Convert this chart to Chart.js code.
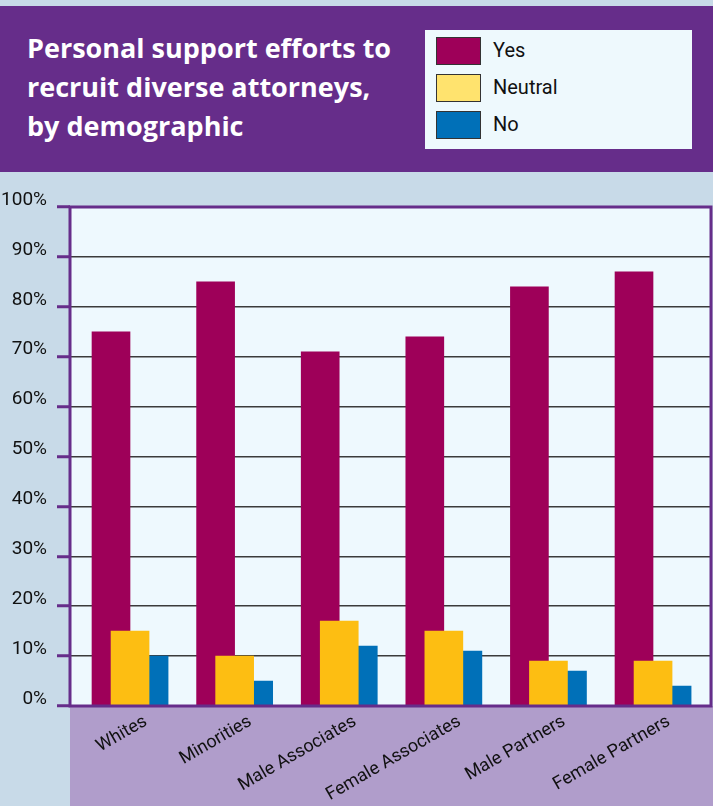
<!DOCTYPE html>
<html>
<head>
<meta charset="utf-8">
<script src="https://cdn.jsdelivr.net/npm/chart.js@4.4.0/dist/chart.umd.min.js"></script>
<style>
  html, body { margin: 0; padding: 0; }
  body { width: 713px; height: 806px; background: #c8dae8; position: relative; overflow: hidden; }
  #header { position: absolute; left: 0; top: 6px; width: 713px; height: 166px; background: #662d8a; }
  #title { position: absolute; left: 27px; top: 22px; color: #fff; font: bold 27px "Open Sans", sans-serif; line-height: 39px; }
  #legend { position: absolute; left: 425px; top: 24px; width: 267px; height: 119px; background: #eef9fd; }
  .item { position: absolute; left: 11px; height: 28px; }
  .sw { position: absolute; left: 0; top: 0; width: 43px; height: 26px; border: 1px solid #333; }
  .lab { position: absolute; left: 57px; top: 1px; line-height: 28px; font: 20px Roboto, sans-serif; color: #111; white-space: nowrap; }
  #wrap { position: absolute; left: 0; top: 172px; width: 713px; height: 634px; }
</style>
</head>
<body>
<div id="header">
  <div id="title">Personal support efforts to<br>recruit diverse attorneys,<br>by demographic</div>
  <div id="legend"></div>
</div>
<div id="wrap"><canvas id="myChart" width="713" height="634"></canvas></div>
<script>
var categories = ['Whites', 'Minorities', 'Male Associates', 'Female Associates', 'Male Partners', 'Female Partners'];
var yesValues = [75, 85, 71, 74, 84, 87];
var neutralValues = [15, 10, 17, 15, 9, 9];
var noValues = [10, 5, 12, 11, 7, 4];
var yTicks = [0, 10, 20, 30, 40, 50, 60, 70, 80, 90, 100];

var purple = '#662d8a';
var series = [
    { label: 'Yes', values: yesValues, color: '#9e0059', swatch: '#9e0059', shift: -0.182, order: 1 },
    { label: 'Neutral', values: neutralValues, color: '#fdbe12', swatch: '#ffe36e', shift: 0, order: 0 },
    { label: 'No', values: noValues, color: '#0070b8', swatch: '#0070b8', shift: 0.182, order: 2 }
];

// legend in the header box
var legend = document.getElementById('legend');
series.forEach(function (s, i) {
    var item = document.createElement('div');
    item.className = 'item';
    item.style.top = (7 + i * 37) + 'px';
    item.innerHTML = '<div class="sw" style="background:' + s.swatch + '"></div><div class="lab">' + s.label + '</div>';
    legend.appendChild(item);
});

var frame = {
    id: 'frame',
    beforeDraw: function (chart) {
        var ctx = chart.ctx, a = chart.chartArea;
        ctx.save();
        ctx.fillStyle = '#eef9fe';
        ctx.fillRect(a.left, a.top, a.right - a.left, a.bottom - a.top);
        ctx.fillStyle = '#b09dcb';
        ctx.fillRect(a.left, a.bottom, chart.width - a.left, chart.height - a.bottom);
        ctx.restore();
    },
    afterDatasetsDraw: function (chart) {
        var ctx = chart.ctx, a = chart.chartArea;
        ctx.save();
        ctx.strokeStyle = purple;
        ctx.lineWidth = 3;
        ctx.strokeRect(a.left, a.top, a.right - a.left, a.bottom - a.top);
        ctx.restore();
    }
};

var ctx = document.getElementById('myChart').getContext('2d');
var myChart = new Chart(ctx, {
    type: 'bar',
    data: {
        datasets: series.map(function (s) {
            return {
                label: s.label,
                data: s.values.map(function (v, i) { return { x: i + s.shift, y: v }; }),
                backgroundColor: s.color,
                borderWidth: 0,
                order: s.order
            };
        })
    },
    options: {
        responsive: false,
        animation: false,
        layout: { padding: { top: 35, right: 2, left: 0, bottom: 0 } },
        datasets: { bar: { grouped: false, barThickness: 38 } },
        scales: {
            x: {
                type: 'linear',
                offset: false,
                min: -0.574,
                max: 5.554,
                afterBuildTicks: function (scale) {
                    scale.ticks = categories.map(function (c, i) { return { value: i + 0.15 }; });
                },
                afterFit: function (scale) { scale.height = 100; },
                grid: { display: false },
                border: { display: false },
                ticks: {
                    autoSkip: false,
                    minRotation: 30,
                    maxRotation: 30,
                    padding: -3,
                    color: '#111',
                    font: { family: 'Roboto', size: 18 },
                    callback: function (v) { return categories[Math.round(v)]; }
                }
            },
            y: {
                min: 0,
                max: 100,
                afterBuildTicks: function (scale) {
                    scale.ticks = yTicks.map(function (v) { return { value: v }; });
                },
                afterFit: function (scale) { scale.width = 70; },
                border: { display: false },
                grid: {
                    color: function (c) { return (c.tick && (c.tick.value === 0 || c.tick.value === 100)) ? 'rgba(0,0,0,0)' : '#3b3b3b'; },
                    lineWidth: 1.5,
                    drawTicks: true,
                    tickLength: 13,
                    tickColor: purple,
                    tickWidth: 3
                },
                ticks: {
                    padding: 10,
                    labelOffset: -7,
                    color: '#111',
                    font: { family: 'Roboto', size: 19 },
                    callback: function (v) { return v + '%'; }
                }
            }
        },
        plugins: {
            legend: { display: false },
            tooltip: { enabled: false }
        }
    },
    plugins: [frame]
});
</script>
</body>
</html>
